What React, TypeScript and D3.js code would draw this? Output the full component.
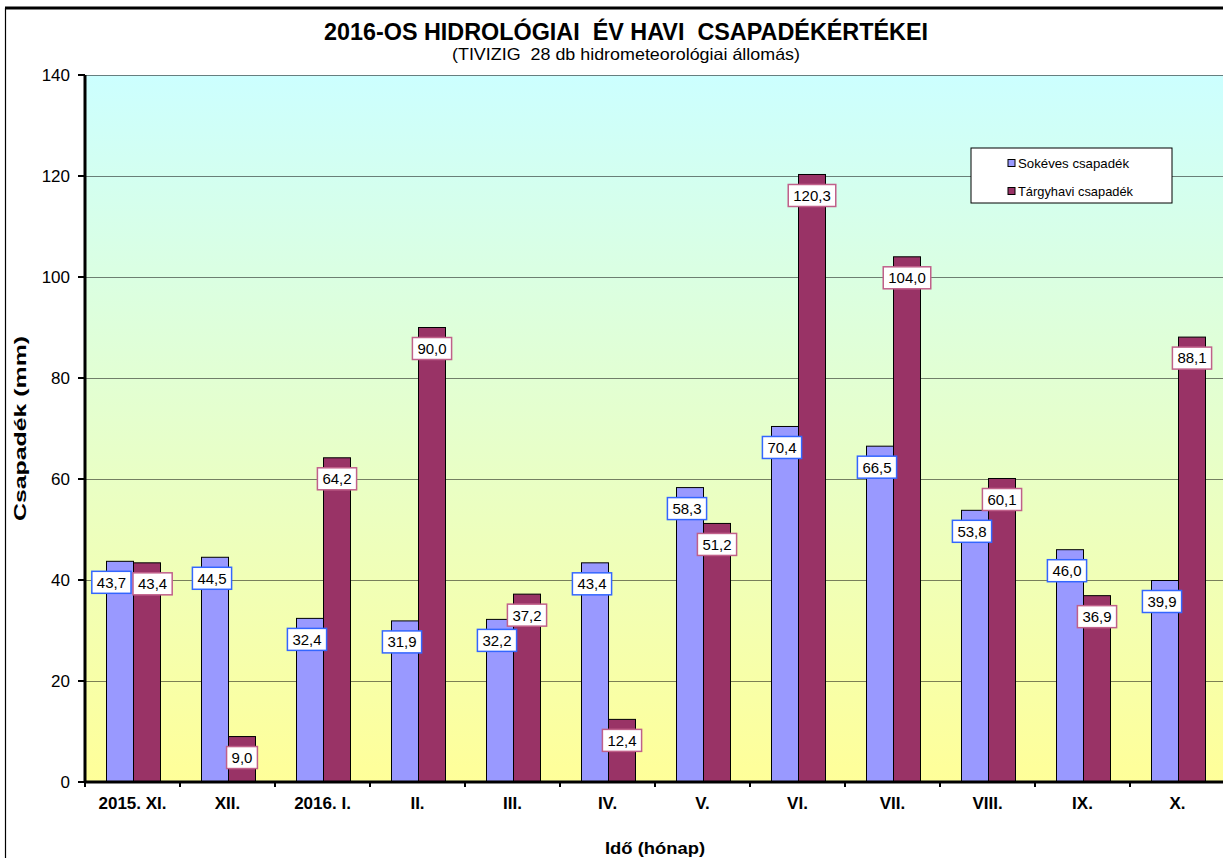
import React from "react";
import { scaleBand, scaleLinear, range } from "d3";

// havi adatok (mm)
const months = ["2015. XI.", "XII.", "2016. I.", "II.", "III.", "IV.", "V.", "VI.", "VII.", "VIII.", "IX.", "X."];
const sokeves = [43.7, 44.5, 32.4, 31.9, 32.2, 43.4, 58.3, 70.4, 66.5, 53.8, 46.0, 39.9];
const targyhavi = [43.4, 9.0, 64.2, 90.0, 37.2, 12.4, 51.2, 120.3, 104.0, 60.1, 36.9, 88.1];
const seriesNames = ["Sokéves csapadék", "Tárgyhavi csapadék"];
const yTicks = [0, 20, 40, 60, 80, 100, 120, 140];

const W = 1223;
const H = 858;
const FONT = "'Liberation Sans', Arial, sans-serif";

const fmt = (v: number) => v.toFixed(1).replace(".", ",");
const labelWidth = (s: string) => s.replace(",", "").length * 8.34 + 4.17 + 10;

function App() {
  const x = scaleBand().domain(months).range([85, 1225]);
  const x1 = scaleBand().domain(seriesNames).range([21.5, 75.5]);
  const y = scaleLinear().domain([0, 140]).range([782, 75]);

  const series = [
    { name: seriesNames[0], values: sokeves, fill: "#9999ff", labelStroke: "#3366ff", dx: -3, legendLen: 111 },
    { name: seriesNames[1], values: targyhavi, fill: "#993366", labelStroke: "#c0608a", dx: 0, legendLen: 115 },
  ];

  const left = x.range()[0];
  const right = x.range()[1];
  const bottom = y(0);
  const top = y(140);

  // feliratok helye, egyszerű ütközéskerüléssel kategórián belül
  const labels = months.map((m, i) => {
    const ls = series.map((s) => {
      const text = fmt(s.values[i]);
      return {
        key: s.name + i,
        text,
        stroke: s.labelStroke,
        w: labelWidth(text),
        cx: (x(m) as number) + (x1(s.name) as number) + x1.bandwidth() / 2 + s.dx,
        cy: y(s.values[i]) + 21,
      };
    });
    const [a, b] = ls;
    const overlapX = a.cx + a.w / 2 - (b.cx - b.w / 2);
    if (Math.abs(a.cy - b.cy) < 22 && overlapX > 0) {
      a.cx -= overlapX / 2 + 1;
      b.cx += overlapX / 2 + 1;
    }
    return ls;
  }).flat();

  return (
    <svg width={W} height={H} style={{ display: "block", position: "absolute", left: 0, top: 0 }} fontFamily={FONT}>
      <defs>
        <linearGradient id="bg" x1="0" y1="0" x2="0" y2="1">
          <stop offset="0%" stopColor="#ccffff" />
          <stop offset="100%" stopColor="#ffff99" />
        </linearGradient>
      </defs>
      <rect x={0} y={0} width={W} height={H} fill="#fff" />
      {/* keret */}
      <line x1={5} x2={W} y1={8} y2={8} stroke="#000" strokeWidth={3} />
      <line x1={5.5} x2={5.5} y1={8} y2={H} stroke="#000" strokeWidth={1.2} />

      {/* cím */}
      <text x={626} y={40} textAnchor="middle" fontSize={23} fontWeight="bold" textLength={604}
        lengthAdjust="spacingAndGlyphs" style={{ whiteSpace: "pre" }}>
        {"2016-OS HIDROLÓGIAI  ÉV HAVI  CSAPADÉKÉRTÉKEI"}
      </text>
      <text x={626} y={60} textAnchor="middle" fontSize={16.5} textLength={348}
        lengthAdjust="spacingAndGlyphs" style={{ whiteSpace: "pre" }}>
        {"(TIVIZIG  28 db hidrometeorológiai állomás)"}
      </text>

      {/* plot area */}
      <rect x={left} y={top} width={right - left} height={bottom - top} fill="url(#bg)" />
      {yTicks.slice(1).map((t) => (
        <line key={t} x1={left} x2={right} y1={Math.round(y(t)) + 0.5} y2={Math.round(y(t)) + 0.5}
          stroke="#000" strokeOpacity={0.5} strokeWidth={1} />
      ))}

      {/* oszlopok */}
      {series.map((s) =>
        s.values.map((v, i) => (
          <rect key={s.name + i} x={(x(months[i]) as number) + (x1(s.name) as number)} y={y(v)}
            width={x1.bandwidth()} height={bottom - y(v)} fill={s.fill} stroke="#000" strokeWidth={1} />
        ))
      )}

      {/* tengelyek */}
      <line x1={left} x2={left} y1={top} y2={bottom + 1} stroke="#000" strokeWidth={3} />
      <line x1={left - 1} x2={right} y1={bottom} y2={bottom} stroke="#000" strokeWidth={3} />
      {yTicks.map((t) => (
        <g key={t} transform={`translate(0,${y(t)})`}>
          <line x1={left - 7} x2={left} stroke="#000" strokeWidth={2} />
          <text x={70} dy="0.36em" textAnchor="end" fontSize={17}>{t}</text>
        </g>
      ))}
      {range(months.length + 1).map((i) => (
        <line key={i} x1={left + i * x.step()} x2={left + i * x.step()} y1={bottom} y2={bottom + 5}
          stroke="#000" strokeWidth={2} />
      ))}
      {months.map((m) => (
        <text key={m} x={(x(m) as number) + x.bandwidth() / 2} y={809} textAnchor="middle"
          fontSize={17} fontWeight="bold">{m}</text>
      ))}

      {/* tengelycímek */}
      <text transform={`translate(26,${(top + bottom) / 2}) rotate(-90)`} textAnchor="middle"
        fontSize={16} fontWeight="bold" textLength={185} lengthAdjust="spacingAndGlyphs">Csapadék (mm)</text>
      <text x={655} y={854} textAnchor="middle" fontSize={17} fontWeight="bold" textLength={100}
        lengthAdjust="spacingAndGlyphs">Idő (hónap)</text>

      {/* adatfeliratok */}
      {labels.map((l) => (
        <g key={"l" + l.key}>
          <rect x={l.cx - l.w / 2} y={l.cy - 11} width={l.w} height={22} fill="#fff" stroke={l.stroke} strokeWidth={1.5} />
          <text x={l.cx} y={l.cy} dy="0.36em" textAnchor="middle" fontSize={15}>{l.text}</text>
        </g>
      ))}

      {/* jelmagyarázat */}
      <g transform="translate(971,148)">
        <rect x={0} y={0} width={201} height={55} fill="#fff" stroke="#000" strokeWidth={1} />
        {series.map((s, i) => (
          <g key={s.name} transform={`translate(37,${15 + i * 28})`}>
            <rect x={0} y={-3.5} width={7} height={7} fill={s.fill} stroke="#000" strokeWidth={1} />
            <text x={10} dy="0.36em" fontSize={13} textLength={s.legendLen} lengthAdjust="spacingAndGlyphs">{s.name}</text>
          </g>
        ))}
      </g>
    </svg>
  );
}

export default App;
